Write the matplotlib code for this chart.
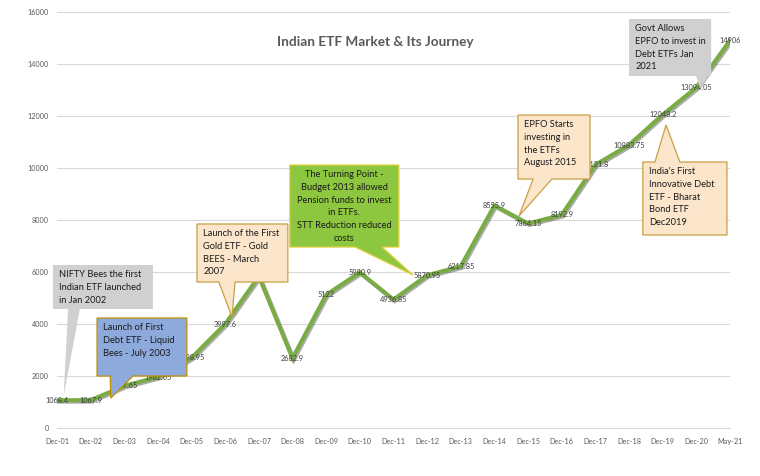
import matplotlib
matplotlib.use("Agg")
import matplotlib.pyplot as plt
import matplotlib.patheffects as pe
from matplotlib.patches import Polygon
import numpy as np

plt.rcParams['font.family'] = ['Lato', 'DejaVu Sans']

# chart data
dates = ['Dec-01', 'Dec-02', 'Dec-03', 'Dec-04', 'Dec-05', 'Dec-06', 'Dec-07',
         'Dec-08', 'Dec-09', 'Dec-10', 'Dec-11', 'Dec-12', 'Dec-13', 'Dec-14',
         'Dec-15', 'Dec-16', 'Dec-17', 'Dec-18', 'Dec-19', 'Dec-20', 'May-21']
aum = [1068.4, 1067.9, 1617.65, 1962.05, 2698.95, 3997.6, 5830.0,
       2682.9, 5122, 5980.9, 4936.85, 5870.95, 6217.85, 8555.9,
       7864.15, 8192.9, 10121.8, 10883.75, 12048.2, 13094.05, 14906]
yticks = [0, 2000, 4000, 6000, 8000, 10000, 12000, 14000, 16000]

# callouts: text, box (x0, x1, ybottom, ytop), tail base (xa, xb), tip, side, colours, align
callouts = [
    ("NIFTY Bees the first\nIndian ETF launched\nin Jan 2002",
     (-0.12, 2.85, 4577, 6269), (0.33, 0.68), (0.2, 1250), 'bottom', '#D0D0D0', 'none', 'left'),
    ("Launch of First\nDebt ETF - Liquid\nBees - July 2003",
     (1.19, 3.86, 2000, 4231), (1.58, 2.26), (1.6, 1154), 'bottom', '#8EA9DB', '#BF9000', 'left'),
    ("Launch of the First\nGold ETF - Gold\nBEES - March\n2007",
     (4.16, 6.86, 5615, 7846), (4.81, 5.29), (5.2, 4269), 'bottom', '#FBE5CB', '#C9A045', 'left'),
    ("The Turning Point -\nBudget 2013 allowed\nPension funds to invest\nin ETFs.\nSTT Reduction reduced\ncosts",
     (6.92, 10.16, 6961, 10115), (8.86, 9.66), (10.58, 5884), 'bottom', '#8DC63F', '#E0D040', 'center'),
    ("EPFO Starts\ninvesting in\nthe ETFs\nAugust 2015",
     (13.70, 15.84, 9577, 12038), (14.15, 14.71), (13.73, 8154), 'bottom', '#FBE5CB', '#C9A045', 'left'),
    ("India's First\nInnovative Debt\nETF - Bharat\nBond ETF\nDec2019",
     (17.41, 19.91, 7423, 10231), (17.77, 18.51), (18.1, 11654), 'top', '#FBE5CB', '#C9A045', 'left'),
    ("Govt Allows\nEPFO to invest in\nDebt ETFs Jan\n2021",
     (17.0, 19.44, 13538, 15731), (18.99, 19.35), (19.11, 13077), 'bottom', '#D0D0D0', 'none', 'left'),
]


def fmt(v):
    return f'{v:.2f}'.rstrip('0').rstrip('.')


fig = plt.figure(figsize=(7.6, 4.76), dpi=100)
ax = fig.add_axes([0.075, 0.1008, 0.8855, 0.874])

x = np.arange(len(dates))
ax.plot(x, aum, color='#79AC45', linewidth=3, solid_joinstyle='miter', zorder=3,
        path_effects=[pe.SimpleLineShadow(offset=(1, -1), shadow_color='#4a4a4a', alpha=0.45),
                      pe.Normal()])
for xi, v in zip(x, aum):
    ax.text(xi, v, fmt(v), ha='center', va='center', fontsize=5.3, color='#404040', zorder=4)

ax.set_xlim(0, len(dates) - 1)
ax.set_ylim(0, 16000)
ax.set_xticks(x)
ax.set_xticklabels(dates)
ax.set_yticks(yticks)
ax.set_yticklabels([str(t) for t in yticks])
ax.tick_params(axis='both', length=0, labelsize=5.2, labelcolor='#595959')
ax.tick_params(axis='x', pad=7)
ax.tick_params(axis='y', pad=6)
ax.grid(axis='y', color='#D9D9D9', linewidth=0.8)
ax.set_axisbelow(True)
for s in ['top', 'right', 'left']:
    ax.spines[s].set_visible(False)
ax.spines['bottom'].set_color('#D9D9D9')

for text, (x0, x1, yb, yt), (ba, bb), tip, side, fc, ec, align in callouts:
    if side == 'bottom':
        pts = [(x0, yt), (x1, yt), (x1, yb), (bb, yb), tip, (ba, yb), (x0, yb)]
    else:
        pts = [(x0, yb), (x0, yt), (ba, yt), tip, (bb, yt), (x1, yt), (x1, yb)]
    ax.add_patch(Polygon(pts, closed=True, facecolor=fc, edgecolor=ec, linewidth=0.9,
                         zorder=5, clip_on=False))
    if align == 'center':
        ax.annotate(text, xy=((x0 + x1) / 2, yt), xytext=(0, -3.5), textcoords='offset points',
                    ha='center', va='top', multialignment='center', fontsize=6.7,
                    linespacing=1.55, color='#1a1a1a', zorder=6, annotation_clip=False)
    else:
        ax.annotate(text, xy=(x0, yt), xytext=(4.5, -3.5), textcoords='offset points',
                    ha='left', va='top', fontsize=6.7, linespacing=1.55, color='#1a1a1a',
                    zorder=6, annotation_clip=False)

fig.text(0.494, 0.912, 'Indian ETF Market & Its Journey', ha='center', va='center',
         fontsize=9.8, fontweight='bold', color='#595959')

fig.savefig('out.png', dpi=100)
